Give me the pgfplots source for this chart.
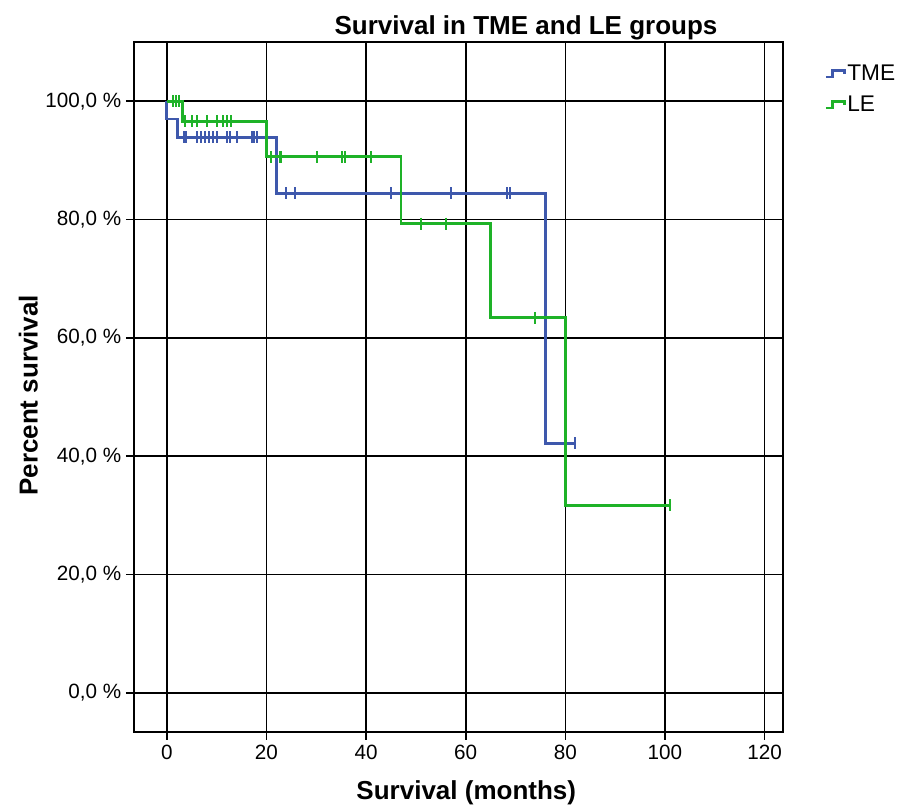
\documentclass[border=0pt]{standalone}
\usepackage{fontspec}
\setmainfont{Liberation Sans}
\usepackage{pgfplots}
\pgfplotsset{compat=1.18}
\definecolor{tme}{RGB}{62,88,172}
\definecolor{le}{RGB}{30,178,40}
\begin{document}
\begin{tikzpicture}
\begin{axis}[
 scale only axis, width=486.75pt, height=517.5pt,
 xmin=-6.6, xmax=123.7, ymin=-6.6, ymax=110,
 xtick={0,20,...,120}, ytick={0,20,...,100},
 xtick pos=bottom, ytick pos=left,
 yticklabels={{0,0 \%},{20,0 \%},{40,0 \%},{60,0 \%},{80,0 \%},{100,0 \%}},
 grid=major, major grid style={black, line width=1.2pt},
 axis line style={black, line width=1.2pt},
 tick align=outside, major tick length=6pt, tick style={black, line width=1.2pt},
 ticklabel style={font=\fontsize{15.5}{18}\selectfont},
 /pgf/number format/assume math mode=true,
 xlabel={Survival (months)}, ylabel={Percent survival},
 label style={font=\bfseries\fontsize{19.5}{22}\selectfont},
 xlabel style={at={(axis description cs:0.512,-0.088)}, anchor=center},
 ylabel style={at={(axis description cs:-0.163,0.488)}, anchor=center},
 clip=false,
 legend style={at={(axis description cs:1,1)}, anchor=north west, xshift=31pt, yshift=-16pt,
   draw=none, fill=none, font=\fontsize{17}{20}\selectfont, row sep=8pt, inner sep=0pt,
   nodes={inner sep=1pt}},
 legend cell align=left,
 legend image code/.code={\draw[#1, line width=2pt] (0pt,-2.5pt) -- (5pt,-2.5pt) -- (5pt,2.5pt) -- (14pt,2.5pt) -- (14pt,-0.5pt);},
]
\addplot[const plot, tme, line width=2.1pt] coordinates {(0,100) (0,97.0) (2.2,93.9) (22,84.4) (76,42.2) (82,42.2)};
\addlegendentry{TME}
\addplot[const plot, le, line width=2.1pt] coordinates {(0,100) (3.1,96.6) (20,90.6) (47,79.3) (65,63.4) (80,31.7) (101,31.7)};
\addlegendentry{LE}
\addplot[only marks, mark=|, mark size=4.5pt, tme, line width=1.5pt, forget plot] coordinates {
 (3.5,93.9) (3.9,93.9) (6,93.9) (6.8,93.9) (7.6,93.9) (8.5,93.9) (9.3,93.9) (10.1,93.9) (12.1,93.9) (12.6,93.9) (14,93.9) (17,93.9) (17.5,93.9) (18.1,93.9)
 (24,84.4) (25.8,84.4) (45,84.4) (57,84.4) (68.2,84.4) (68.8,84.4) (82,42.2)};
\addplot[only marks, mark=|, mark size=4.5pt, le, line width=1.5pt, forget plot] coordinates {
 (1.3,100) (1.9,100) (2.5,100)
 (3.6,96.6) (5.0,96.6) (6.0,96.6) (8.1,96.6) (10.1,96.6) (11.2,96.6) (12.1,96.6) (12.8,96.6)
 (21.0,90.6) (22.7,90.6) (23.0,90.6) (30.1,90.6) (35.1,90.6) (35.7,90.6) (41.0,90.6)
 (51,79.3) (56,79.3) (74,63.4) (101,31.7)};
\node[font=\bfseries\fontsize{19.5}{23}\selectfont] at (rel axis cs:0.604,1.021) {Survival in TME and LE groups};
\coordinate (bl) at (rel axis cs:0,0);
\end{axis}
\pgfresetboundingbox
\path (bl) ++(-100.5pt,-55.5pt) rectangle ++(678pt,604.5pt);
\end{tikzpicture}
\end{document}
